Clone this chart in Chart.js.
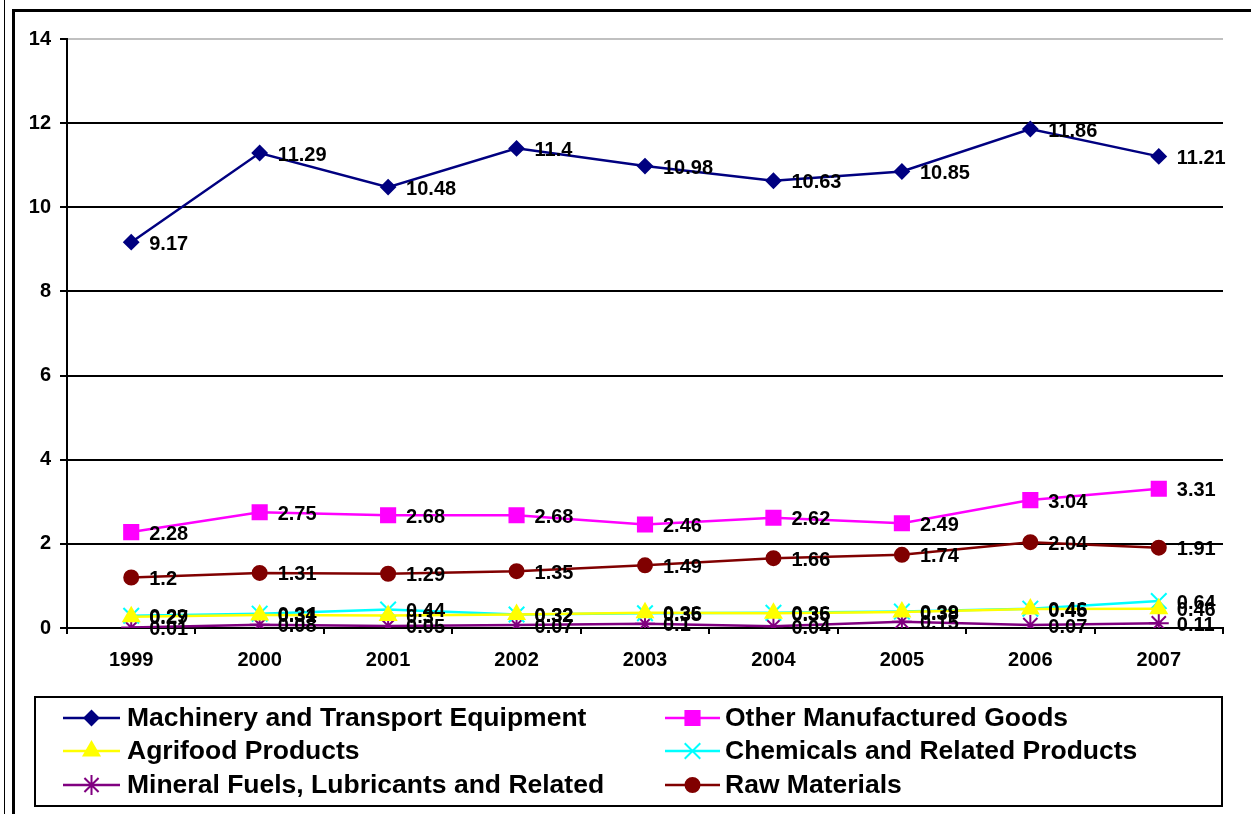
<!DOCTYPE html>
<html>
<head>
<meta charset="utf-8">
<style>
  html, body { margin: 0; padding: 0; background: #fff; }
  #wrap { width: 1251px; height: 814px; }
</style>
<script src="https://cdn.jsdelivr.net/npm/chart.js@4/dist/chart.umd.min.js"></script>
</head>
<body>
<div id="wrap"><canvas id="c" width="1251" height="814"></canvas></div>
<script>
// Years on the category axis
const years = ['1999', '2000', '2001', '2002', '2003', '2004', '2005', '2006', '2007'];

// Series values
const machinery = [9.17, 11.29, 10.48, 11.4, 10.98, 10.63, 10.85, 11.86, 11.21];
const otherManufactured = [2.28, 2.75, 2.68, 2.68, 2.46, 2.62, 2.49, 3.04, 3.31];
const agrifood = [0.27, 0.31, 0.30, 0.32, 0.36, 0.35, 0.38, 0.45, 0.46];
const chemicals = [0.29, 0.34, 0.44, 0.32, 0.35, 0.36, 0.39, 0.46, 0.64];
const mineralFuels = [0.01, 0.08, 0.05, 0.07, 0.1, 0.04, 0.15, 0.07, 0.11];
const rawMaterials = [1.2, 1.31, 1.29, 1.35, 1.49, 1.66, 1.74, 2.04, 1.91];

// Value axis ticks
const yTicks = [0, 2, 4, 6, 8, 10, 12, 14];

const FONT = "'Liberation Sans', Arial, Helvetica, sans-serif";
Chart.defaults.font.family = FONT;

function series(label, data, color, style, radius) {
  return {
    label, data,
    borderColor: color,
    backgroundColor: color,
    pointBackgroundColor: color,
    pointBorderColor: color,
    pointStyle: style,
    pointRadius: radius,
    pointHoverRadius: radius,
    pointBorderWidth: 2,
    borderWidth: 2.5,
    tension: 0,
    fill: false
  };
}

const datasets = [
  series('Machinery and Transport Equipment', machinery, '#000080', 'rectRot', 7),
  series('Other Manufactured Goods', otherManufactured, '#FF00FF', 'rect', 10),
  series('Agrifood Products', agrifood, '#FFFF00', 'triangle', 9),
  series('Chemicals and Related Products', chemicals, '#00FFFF', 'crossRot', 11),
  series('Mineral Fuels, Lubricants and Related', mineralFuels, '#800080', 'star', 10),
  series('Raw Materials', rawMaterials, '#800000', 'circle', 7)
];

// White page, outer frame lines
const framePlugin = {
  id: 'frame',
  beforeDraw(chart) {
    const ctx = chart.ctx;
    ctx.save();
    ctx.fillStyle = '#fff';
    ctx.fillRect(0, 0, chart.width, chart.height);
    ctx.strokeStyle = '#000';
    ctx.lineWidth = 1;
    ctx.beginPath();
    ctx.moveTo(4.5, 0);
    ctx.lineTo(4.5, chart.height);
    ctx.stroke();
    ctx.lineWidth = 3;
    ctx.beginPath();
    ctx.moveTo(13.5, chart.height + 5);
    ctx.lineTo(13.5, 10.5);
    ctx.lineTo(chart.width + 5, 10.5);
    ctx.stroke();
    ctx.restore();
  }
};

// Value labels next to each point
const valueLabels = {
  id: 'valueLabels',
  afterDatasetsDraw(chart) {
    const ctx = chart.ctx;
    ctx.save();
    ctx.font = 'bold 20px ' + FONT;
    ctx.fillStyle = '#000';
    ctx.textAlign = 'left';
    ctx.textBaseline = 'middle';
    chart.data.datasets.forEach((ds, i) => {
      const meta = chart.getDatasetMeta(i);
      meta.data.forEach((pt, j) => {
        ctx.fillText(String(ds.data[j]), pt.x + 18, pt.y + 2);
      });
    });
    ctx.restore();
  }
};

// Two-column boxed legend under the plot
const boxLegend = {
  id: 'boxLegend',
  afterDraw(chart) {
    const ctx = chart.ctx;
    const box = { l: 35, t: 697, r: 1222, b: 806 };
    ctx.save();
    ctx.strokeStyle = '#000';
    ctx.lineWidth = 2;
    ctx.strokeRect(box.l, box.t, box.r - box.l, box.b - box.t);
    const cols = [{ x0: 63, x1: 120, tx: 127 }, { x0: 665, x1: 720, tx: 725 }];
    const rows = [718, 751, 785];
    ctx.font = 'bold 26.5px ' + FONT;
    ctx.textBaseline = 'middle';
    ctx.textAlign = 'left';
    chart.data.datasets.forEach((ds, i) => {
      const c = cols[i % 2];
      const y = rows[Math.floor(i / 2)];
      ctx.strokeStyle = ds.borderColor;
      ctx.lineWidth = 2.5;
      ctx.beginPath();
      ctx.moveTo(c.x0, y);
      ctx.lineTo(c.x1, y);
      ctx.stroke();
      ctx.fillStyle = ds.backgroundColor;
      ctx.strokeStyle = ds.borderColor;
      ctx.lineWidth = 2;
      Chart.helpers.drawPoint(ctx, {
        pointStyle: ds.pointStyle,
        radius: ds.pointRadius,
        borderWidth: 2,
        rotation: 0
      }, (c.x0 + c.x1) / 2, y);
      ctx.fillStyle = '#000';
      ctx.fillText(ds.label, c.tx, y + 1);
    });
    ctx.restore();
  }
};

new Chart(document.getElementById('c'), {
  type: 'line',
  data: { labels: years, datasets },
  options: {
    responsive: false,
    animation: false,
    devicePixelRatio: 1,
    layout: { padding: { left: 0, top: 39, right: 28, bottom: 0 } },
    plugins: {
      legend: { display: false },
      tooltip: { enabled: false }
    },
    scales: {
      x: {
        offset: true,
        grid: {
          offset: true,
          drawOnChartArea: false,
          color: '#000',
          lineWidth: 2,
          tickLength: 6
        },
        border: { color: '#000', width: 2 },
        ticks: {
          color: '#000',
          font: { size: 20, weight: 'bold' },
          padding: 14,
          maxRotation: 0
        },
        afterFit(scale) { scale.height = 186; }
      },
      y: {
        min: 0,
        max: 14,
        afterBuildTicks(scale) {
          scale.ticks = yTicks.map(v => ({ value: v }));
        },
        grid: {
          color: ctx => (ctx.tick && ctx.tick.value === 14) ? '#c0c0c0' : '#000',
          tickColor: '#000',
          lineWidth: 2,
          tickLength: 7
        },
        border: { color: '#000', width: 2 },
        ticks: {
          color: '#000',
          font: { size: 20, weight: 'bold' },
          padding: 9
        },
        afterFit(scale) { scale.width = 67; }
      }
    }
  },
  plugins: [framePlugin, valueLabels, boxLegend]
});
</script>
</body>
</html>
